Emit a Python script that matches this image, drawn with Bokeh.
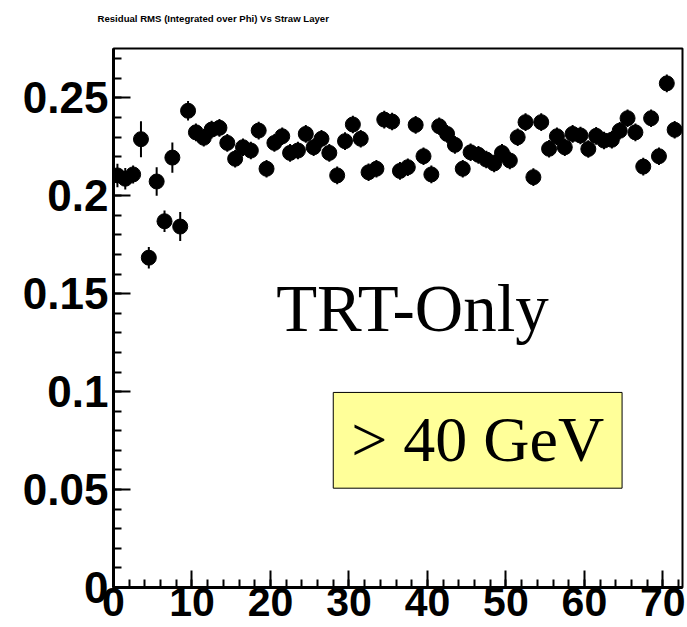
from bokeh.plotting import figure
from bokeh.models import (Range1d, SingleIntervalTicker, Label, BoxAnnotation, Title,
                          CustomJSTickFormatter, ColumnDataSource)
from bokeh.embed import file_html
from bokeh.resources import INLINE

# ---- data ----
layer = [i + 0.5 for i in range(72)]  # straw layer bin centres

rms = [0.2104, 0.2087, 0.2109, 0.2289, 0.1684, 0.2073, 0.1870, 0.2195, 0.1843, 0.2434,
       0.2324, 0.2296, 0.2338, 0.2347, 0.2270, 0.2189, 0.2248, 0.2231, 0.2333, 0.2138,
       0.2270, 0.2304, 0.2219, 0.2231, 0.2316, 0.2248, 0.2291, 0.2219, 0.2104, 0.2279,
       0.2364, 0.2291, 0.2120, 0.2138, 0.2389, 0.2379, 0.2127, 0.2146, 0.2362, 0.2202,
       0.2109, 0.2355, 0.2316, 0.2260, 0.2138, 0.2222, 0.2209, 0.2185, 0.2165, 0.2219,
       0.2180, 0.2299, 0.2376, 0.2095, 0.2376, 0.2240, 0.2304, 0.2248, 0.2316, 0.2308,
       0.2239, 0.2306, 0.2282, 0.2286, 0.2332, 0.2396, 0.2324, 0.2149, 0.2396, 0.2202,
       0.2574, 0.2337]

rms_err = [0.0060, 0.0055, 0.0046, 0.0092, 0.0055, 0.0073, 0.0055, 0.0077, 0.0074, 0.0050,
           0.0045, 0.0045, 0.0045, 0.0045, 0.0045, 0.0045, 0.0045, 0.0045, 0.0045, 0.0045,
           0.0045, 0.0045, 0.0045, 0.0045, 0.0045, 0.0045, 0.0045, 0.0045, 0.0045, 0.0045,
           0.0045, 0.0045, 0.0045, 0.0045, 0.0045, 0.0045, 0.0045, 0.0045, 0.0045, 0.0045,
           0.0045, 0.0045, 0.0045, 0.0045, 0.0045, 0.0045, 0.0045, 0.0045, 0.0045, 0.0045,
           0.0045, 0.0045, 0.0045, 0.0045, 0.0045, 0.0045, 0.0045, 0.0045, 0.0045, 0.0045,
           0.0045, 0.0045, 0.0045, 0.0045, 0.0045, 0.0045, 0.0045, 0.0045, 0.0045, 0.0045,
           0.0045, 0.0045]

title_text = "Residual RMS (Integrated over Phi) Vs Straw Layer"
label_main = "TRT-Only"
label_box = "> 40 GeV"

x_min, x_max = 0, 72.5
y_min, y_max = 0, 0.2752

src = ColumnDataSource(dict(
    x=layer, y=rms,
    lo=[v - e for v, e in zip(rms, rms_err)],
    hi=[v + e for v, e in zip(rms, rms_err)],
))

p = figure(width=687, height=627, output_backend="svg", toolbar_location=None,
           x_range=Range1d(x_min, x_max), y_range=Range1d(y_min, y_max),
           min_border_left=113, min_border_right=5, min_border_top=48, min_border_bottom=40)

p.background_fill_color = "white"
p.border_fill_color = "white"
p.grid.visible = False
p.outline_line_color = "black"
p.outline_line_width = 2
p.outline_line_alpha = 1

# visible title (outer panel above the frame)
p.title.text = title_text
p.title.align = "left"
p.title.vertical_align = "top"
p.title.offset = -16
p.title.standoff = 0
p.title.text_font = "Liberation Sans"
p.title.text_font_style = "bold"
p.title.text_font_size = "9.6px"
p.title.text_color = "black"

# white spacer panel between the title and the frame
p.add_layout(Title(text=".", text_color="white", text_font_size="10px", standoff=13), "above")

# axes
for ax in (p.xaxis[0], p.yaxis[0]):
    ax.axis_line_color = "black"
    ax.axis_line_width = 3
    ax.major_tick_line_color = "black"
    ax.minor_tick_line_color = "black"
    ax.major_tick_line_width = 2
    ax.minor_tick_line_width = 2
    ax.major_tick_in = 17
    ax.major_tick_out = 0
    ax.minor_tick_in = 8
    ax.minor_tick_out = 0
    ax.major_label_text_font = "Liberation Sans"
    ax.major_label_text_font_style = "bold"
    ax.major_label_text_color = "black"

p.yaxis[0].major_label_text_font_size = "44px"
p.xaxis[0].major_label_text_font_size = "41px"
p.xaxis[0].ticker = SingleIntervalTicker(interval=10, num_minor_ticks=5)
p.yaxis[0].ticker = SingleIntervalTicker(interval=0.05, num_minor_ticks=5)
p.yaxis[0].formatter = CustomJSTickFormatter(code="return String(parseFloat(tick.toFixed(3)));")
p.yaxis[0].major_label_standoff = 5
p.xaxis[0].major_label_standoff = 0

# error bars and markers
p.segment(x0="x", y0="lo", x1="x", y1="hi", source=src, line_color="black", line_width=2)
p.scatter(x="x", y="y", source=src, size=15, fill_color="black", line_color="black")

# annotations
p.add_layout(Label(x=38.1, y=0.1425, text=label_main, text_font="Liberation Serif",
                   text_font_size="67px", text_align="center", text_baseline="alphabetic",
                   text_color="black"))
p.add_layout(BoxAnnotation(left=28.0, right=64.8, bottom=0.0507, top=0.0996,
                           fill_color="#ffff99", fill_alpha=1.0,
                           line_color="black", line_width=1, line_alpha=1.0))
p.add_layout(Label(x=46.4, y=0.0754, text=label_box, text_font="Liberation Serif",
                   text_font_size="64px", text_align="center", text_baseline="alphabetic",
                   text_color="black"))

open("out.html", "w").write(file_html(p, INLINE))
